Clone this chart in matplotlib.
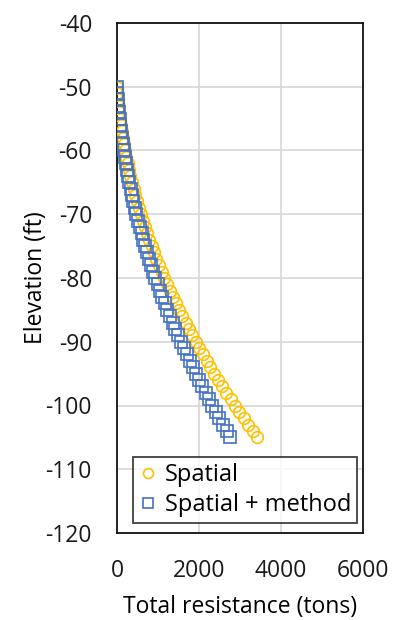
import matplotlib
matplotlib.use("Agg")
import matplotlib.pyplot as plt

# Elevation of each reading (ft)
elevation = list(range(-50, -106, -1))

# Total resistance (tons) at each elevation
spatial = [5, 11, 24, 39, 55, 74, 94, 117, 141, 167,
           195, 225, 257, 291, 326, 364, 403, 445, 488, 533,
           580, 629, 680, 733, 787, 844, 902, 963, 1025, 1089,
           1155, 1223, 1293, 1365, 1438, 1514, 1591, 1671, 1752, 1835,
           1920, 2007, 2096, 2187, 2279, 2374, 2470, 2569, 2669, 2771,
           2875, 2981, 3089, 3199, 3310, 3405]
spatial_method = [5, 9, 20, 32, 46, 62, 78, 97, 117, 138,
                  161, 185, 211, 239, 268, 299, 331, 364, 399, 436,
                  474, 514, 555, 598, 642, 688, 735, 784, 834, 886,
                  939, 994, 1050, 1108, 1168, 1229, 1291, 1355, 1420, 1487,
                  1556, 1626, 1698, 1771, 1845, 1922, 1999, 2078, 2159, 2241,
                  2325, 2410, 2497, 2585, 2675, 2767]

x_ticks = [0, 2000, 4000, 6000]
y_ticks = [-40, -50, -60, -70, -80, -90, -100, -110, -120]

plt.rcParams['font.family'] = ['Open Sans', 'DejaVu Sans']
plt.rcParams['axes.unicode_minus'] = False

FS = 16.5

fig = plt.figure(figsize=(3.96, 6.2), dpi=100)
ax = fig.add_axes([117 / 396, 1 - 533 / 620, 246 / 396, 510 / 620])

ax.plot(spatial, elevation, linestyle='none', marker='o', ms=8.4,
        mfc='none', mec='#FFC000', mew=1.2, label='Spatial', zorder=3)
ax.plot(spatial_method, elevation, linestyle='none', marker='s', ms=8.2,
        mfc='none', mec='#4472C4', mew=1.2, label='Spatial + method', zorder=4)

ax.set_xlim(0, 6000)
ax.set_ylim(-120, -40)
ax.set_xticks(x_ticks)
ax.set_yticks(y_ticks)
ax.tick_params(length=0, labelsize=FS, colors='#1a1a1a')
ax.tick_params(axis='y', pad=18)
ax.tick_params(axis='x', pad=19)
ax.grid(True, color='#D9D9D9', linewidth=1.3)
ax.set_axisbelow(True)
for s in ax.spines.values():
    s.set_color('#111111')
    s.set_linewidth(1.3)

ax.set_xlabel('Total resistance (tons)', fontsize=FS)
ax.set_ylabel('Elevation (ft)', fontsize=FS)
ax.xaxis.set_label_coords(0.5, -0.121)
ax.yaxis.set_label_coords(-0.28, 0.5)

leg = ax.legend(loc='lower right', bbox_to_anchor=(0.976, 0.02),
                borderaxespad=0, fontsize=17, frameon=True, fancybox=False,
                handletextpad=0.3, handlelength=0.8, borderpad=0.25,
                labelspacing=0.25, markerscale=0.85)
leg.get_frame().set_edgecolor('#111111')
leg.get_frame().set_linewidth(1.3)

fig.savefig('out.png', dpi=100)
